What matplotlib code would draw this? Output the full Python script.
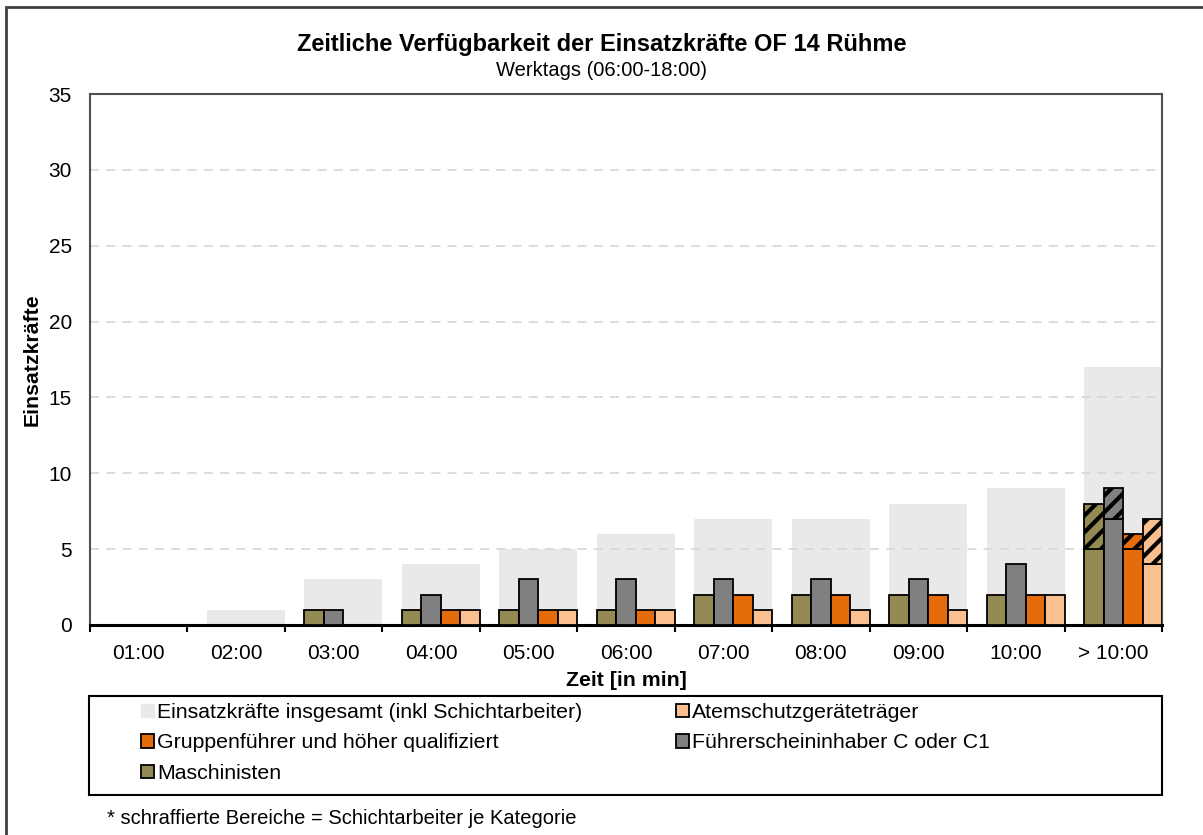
import numpy as np
import matplotlib
matplotlib.use('Agg')
import matplotlib.pyplot as plt
from matplotlib.patches import Rectangle, Patch

plt.rcParams['font.family'] = ['Liberation Sans', 'DejaVu Sans']
plt.rcParams['hatch.linewidth'] = 3.0
plt.rcParams['hatch.color'] = 'black'

# data
zeiten = ['01:00', '02:00', '03:00', '04:00', '05:00', '06:00',
          '07:00', '08:00', '09:00', '10:00', '> 10:00']
gesamt = [0, 1, 3, 4, 5, 6, 7, 7, 8, 9, 17]
maschinisten = [0, 0, 1, 1, 1, 1, 2, 2, 2, 2, 5]
fuehrerschein = [0, 0, 1, 2, 3, 3, 3, 3, 3, 4, 7]
gruppenfuehrer = [0, 0, 0, 1, 1, 1, 2, 2, 2, 2, 5]
atemschutz = [0, 0, 0, 1, 1, 1, 1, 1, 1, 2, 4]
# schichtarbeiter je kategorie (schraffiert)
schicht_masch = [0, 0, 0, 0, 0, 0, 0, 0, 0, 0, 3]
schicht_fuehr = [0, 0, 0, 0, 0, 0, 0, 0, 0, 0, 2]
schicht_grupp = [0, 0, 0, 0, 0, 0, 0, 0, 0, 0, 1]
schicht_atem = [0, 0, 0, 0, 0, 0, 0, 0, 0, 0, 3]

c_gesamt = '#E9E9E9'
c_masch = '#948A54'
c_fuehr = '#808080'
c_grupp = '#E46C0A'
c_atem = '#FAC090'

W, H = 1203, 835
fig = plt.figure(figsize=(W / 100, H / 100), dpi=100)
ax = fig.add_axes([90 / W, 1 - 625 / H, (1162 - 90) / W, (625 - 94) / H])

x = np.arange(len(zeiten))
bw = 0.2

# groups sit at the right side of each category (like the excel original)
ax.bar(x + 0.1, gesamt, width=0.8, color=c_gesamt, zorder=1)

series = [(maschinisten, schicht_masch, c_masch),
          (fuehrerschein, schicht_fuehr, c_fuehr),
          (gruppenfuehrer, schicht_grupp, c_grupp),
          (atemschutz, schicht_atem, c_atem)]
for i, (vals, shift, col) in enumerate(series):
    pos = x - 0.2 + i * bw
    ax.bar(pos, vals, width=bw, color=col, edgecolor='black', linewidth=1.3, zorder=3)
    s = np.array(shift)
    m = s > 0
    ax.bar(pos[m], s[m], bottom=np.array(vals)[m], width=bw, color=col,
           edgecolor='black', linewidth=1.3, hatch='//', zorder=3)

ax.set_xlim(-0.5, len(zeiten) - 0.5)
ax.set_ylim(0, 35)
ax.set_yticks(np.arange(0, 36, 5))
ax.tick_params(axis='y', length=0, pad=13, labelsize=15)
ax.set_xticks(np.arange(-0.5, len(zeiten), 1))
ax.set_xticklabels([])
ax.set_xticks(x, minor=True)
ax.set_xticklabels(zeiten, minor=True)
ax.tick_params(axis='x', which='major', length=5, width=1.5, direction='out')
ax.tick_params(axis='x', which='minor', length=0, pad=13.5, labelsize=15)

ax.set_axisbelow('line')
ax.yaxis.grid(True, linestyle=(0, (5, 4)), color='#D9D9D9', linewidth=1.3)

for side in ['top', 'right', 'left']:
    ax.spines[side].set_color('#505050')
    ax.spines[side].set_linewidth(1.5)
ax.spines['bottom'].set_color('black')
ax.spines['bottom'].set_linewidth(2.2)

fig.text(0.5, 1 - 45 / H, 'Zeitliche Verfügbarkeit der Einsatzkräfte OF 14 Rühme',
         ha='center', va='center', fontsize=17, fontweight='bold')
fig.text(0.5, 1 - 71 / H, 'Werktags (06:00-18:00)', ha='center', va='center', fontsize=14.5)
fig.text(626 / W, 1 - 681 / H, 'Zeit [in min]', ha='center', va='center',
         fontsize=15.3, fontweight='bold')
fig.text(32 / W, 1 - 360 / H, 'Einsatzkräfte', ha='center', va='center',
         rotation=90, fontsize=15.3, fontweight='bold')
fig.text(107 / W, 1 - 818 / H, '* schraffierte Bereiche = Schichtarbeiter je Kategorie',
         ha='left', va='center', fontsize=14.5)

# legend
handles = [Patch(facecolor=c_gesamt, edgecolor=c_gesamt),
           Patch(facecolor=c_grupp, edgecolor='black', linewidth=1.3),
           Patch(facecolor=c_masch, edgecolor='black', linewidth=1.3),
           Patch(facecolor=c_atem, edgecolor='black', linewidth=1.3),
           Patch(facecolor=c_fuehr, edgecolor='black', linewidth=1.3)]
labels = ['Einsatzkräfte insgesamt (inkl Schichtarbeiter)',
          'Gruppenführer und höher qualifiziert',
          'Maschinisten',
          'Atemschutzgeräteträger',
          'Führerscheininhaber C oder C1']
fig.legend(handles, labels, ncol=2, loc='upper left',
           bbox_to_anchor=(141 / W, 1 - 703 / H), frameon=False, fontsize=15.3,
           handlelength=0.61, handleheight=0.61, handletextpad=0.15,
           labelspacing=0.54, columnspacing=4.4, borderpad=0, borderaxespad=0)
fig.patches.append(Rectangle((89 / W, 1 - 795 / H), (1162 - 89) / W, (795 - 696) / H,
                             transform=fig.transFigure, fill=False,
                             edgecolor='black', linewidth=1.5))
fig.patches.append(Rectangle((6 / W, -0.05), 1.2, 1.05 - 7 / H,
                             transform=fig.transFigure, fill=False,
                             edgecolor='#404040', linewidth=2))

fig.savefig('out.png', dpi=100)
